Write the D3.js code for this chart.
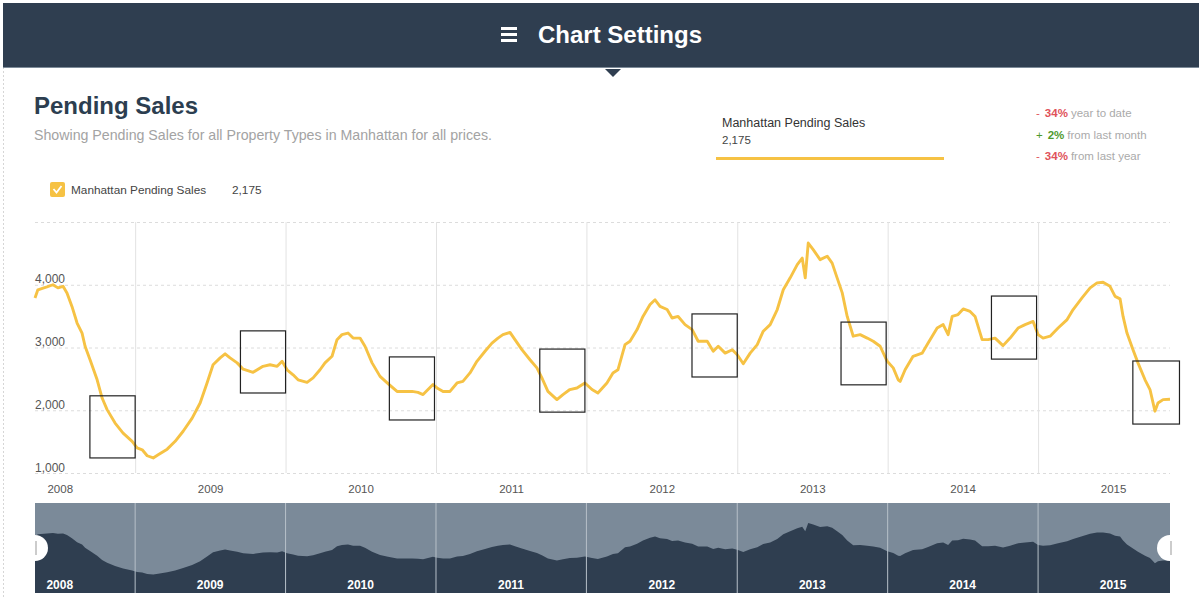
<!DOCTYPE html>
<html>
<head>
<meta charset="utf-8">
<style>
    body { margin: 0; background: #fff; }
    svg text { font-family: "Liberation Sans", Arial, sans-serif; }
</style>
</head>
<body>
<script src="https://d3js.org/d3.v7.min.js"></script>
<script type="text/javascript">
    // pending sales readings, time as decimal year
    var saleYears = [
        2008.336, 2008.355, 2008.415, 2008.455, 2008.488, 2008.522, 2008.548, 2008.581, 2008.615, 2008.648,
        2008.668, 2008.701, 2008.748, 2008.781, 2008.814, 2008.867, 2008.920, 2008.980, 2009.013, 2009.047,
        2009.080, 2009.120, 2009.153, 2009.213, 2009.266, 2009.319, 2009.379, 2009.432, 2009.478, 2009.518,
        2009.565, 2009.598, 2009.631, 2009.678, 2009.718, 2009.784, 2009.850, 2009.897, 2009.944, 2009.977,
        2010.010, 2010.050, 2010.083, 2010.143, 2010.183, 2010.229, 2010.262, 2010.309, 2010.342, 2010.375,
        2010.415, 2010.449, 2010.495, 2010.528, 2010.575, 2010.628, 2010.681, 2010.741, 2010.781, 2010.841,
        2010.880, 2010.914, 2010.947, 2010.980, 2011.007, 2011.047, 2011.093, 2011.140, 2011.179, 2011.226,
        2011.272, 2011.326, 2011.372, 2011.412, 2011.445, 2011.492, 2011.525, 2011.571, 2011.625, 2011.671,
        2011.704, 2011.744, 2011.804, 2011.844, 2011.890, 2011.937, 2011.990, 2012.037, 2012.076, 2012.136,
        2012.176, 2012.209, 2012.256, 2012.289, 2012.336, 2012.375, 2012.422, 2012.455, 2012.488, 2012.535,
        2012.568, 2012.608, 2012.654, 2012.701, 2012.741, 2012.801, 2012.841, 2012.874, 2012.920, 2012.967,
        2013.000, 2013.040, 2013.086, 2013.133, 2013.173, 2013.219, 2013.266, 2013.306, 2013.352, 2013.399,
        2013.432, 2013.452, 2013.472, 2013.505, 2013.551, 2013.598, 2013.631, 2013.664, 2013.698, 2013.731,
        2013.771, 2013.817, 2013.864, 2013.904, 2013.950, 2013.997, 2014.037, 2014.070, 2014.083, 2014.116,
        2014.169, 2014.229, 2014.269, 2014.329, 2014.369, 2014.402, 2014.429, 2014.468, 2014.502, 2014.548,
        2014.581, 2014.628, 2014.668, 2014.714, 2014.767, 2014.814, 2014.867, 2014.914, 2014.967, 2015.000,
        2015.033, 2015.080, 2015.133, 2015.193, 2015.233, 2015.292, 2015.346, 2015.392, 2015.432, 2015.478,
        2015.512, 2015.545, 2015.565, 2015.591, 2015.631, 2015.664, 2015.711, 2015.744, 2015.777, 2015.797,
        2015.831, 2015.877
    ];
    var saleValues = [
        3790, 3920, 3965, 4000, 3950, 3975, 3870, 3655, 3390, 3230,
        3020, 2805, 2485, 2195, 2010, 1795, 1635, 1505, 1400, 1370,
        1275, 1240, 1290, 1380, 1505, 1665, 1875, 2115, 2435, 2725,
        2835, 2900, 2835, 2755, 2655, 2605, 2700, 2725, 2700, 2780,
        2645, 2565, 2485, 2445, 2515, 2645, 2755, 2860, 3125, 3205,
        3230, 3150, 3150, 3020, 2755, 2540, 2425, 2300, 2300, 2300,
        2285, 2250, 2330, 2410, 2355, 2300, 2300, 2435, 2460, 2595,
        2780, 2940, 3070, 3150, 3205, 3240, 3125, 2965, 2805, 2675,
        2515, 2300, 2170, 2250, 2330, 2355, 2435, 2330, 2275, 2435,
        2595, 2645, 3045, 3100, 3285, 3495, 3685, 3760, 3655, 3605,
        3470, 3495, 3365, 3285, 3100, 3100, 2940, 3020, 2910, 2965,
        2885, 2740, 2910, 3045, 3260, 3365, 3605, 3920, 4110, 4320,
        4425, 4110, 4665, 4560, 4400, 4455, 4345, 4110, 3870, 3495,
        3180, 3205, 3150, 3100, 3020, 2780, 2675, 2485, 2460, 2645,
        2860, 2910, 3070, 3310, 3365, 3205, 3495, 3525, 3615, 3575,
        3495, 3125, 3125, 3150, 3030, 3150, 3310, 3365, 3415, 3205,
        3150, 3180, 3310, 3445, 3605, 3790, 3950, 4030, 4040, 3975,
        3815, 3775, 3495, 3230, 2965, 2755, 2485, 2330, 1985, 2115,
        2170, 2175
    ];

    var yTicks = [1000, 2000, 3000, 4000, 5000];
    var years = [2008, 2009, 2010, 2011, 2012, 2013, 2014, 2015];

    // the black highlight boxes drawn over the chart
    var boxStart = [2008.70, 2009.70, 2010.69, 2011.69, 2012.70, 2013.69, 2014.69, 2015.63];
    var boxEnd   = [2009.00, 2010.00, 2010.99, 2011.99, 2013.00, 2013.99, 2014.99, 2015.94];
    var boxHigh  = [2230, 3265, 2850, 2975, 3535, 3405, 3820, 2785];
    var boxLow   = [1240, 2275, 1845, 1970, 2530, 2405, 2815, 1780];

    var statSigns = ['-', '+', '-'];
    var statPct = ['34%', '2%', '34%'];
    var statText = ['year to date', 'from last month', 'from last year'];

    var seriesName = 'Manhattan Pending Sales';

    function toDate(t) {
        var yr = Math.floor(t);
        var a = new Date(yr, 0, 1), b = new Date(yr + 1, 0, 1);
        return new Date(+a + (t - yr) * (b - a));
    }

    var data = saleYears.map(function (t, i) { return { date: toDate(t), value: saleValues[i] }; });
    var lastValue = saleValues[saleValues.length - 1];
    var fmt = d3.format(',');

    var svgWidth = 1199, svgHeight = 597;
    var yellow = '#f6c244', navy = '#2f3e50';

    var svg = d3.select('body').append('svg')
        .attr('width', svgWidth).attr('height', svgHeight);

    // page edge
    svg.append('line').attr('x1', 3.5).attr('x2', 3.5).attr('y1', 67).attr('y2', svgHeight)
        .attr('stroke', '#d6d6d6').attr('stroke-dasharray', '2,2');

    // header bar
    svg.append('rect').attr('x', 3).attr('y', 3).attr('width', svgWidth - 3).attr('height', 64).attr('fill', navy);
    svg.append('line').attr('x1', 3).attr('x2', svgWidth).attr('y1', 67.5).attr('y2', 67.5).attr('stroke', '#7d8b99');
    svg.append('path').attr('d', 'M605,69 L621,69 L613,77 Z').attr('fill', navy);
    [27, 33, 39].forEach(function (yy) {
        svg.append('rect').attr('x', 501).attr('y', yy).attr('width', 16).attr('height', 3).attr('fill', '#fff');
    });
    svg.append('text').attr('x', 538).attr('y', 43).text('Chart Settings')
        .attr('fill', '#fff').attr('font-size', 24).attr('font-weight', 'bold');

    // title block
    svg.append('text').attr('x', 34).attr('y', 114).text('Pending Sales')
        .attr('fill', '#2c3e50').attr('font-size', 24).attr('font-weight', 'bold');
    svg.append('text').attr('x', 34).attr('y', 140)
        .text('Showing Pending Sales for all Property Types in Manhattan for all prices.')
        .attr('fill', '#a3a3a3').attr('font-size', 14.2);

    // legend
    svg.append('rect').attr('x', 50).attr('y', 182).attr('width', 15).attr('height', 15).attr('rx', 2).attr('fill', yellow);
    svg.append('path').attr('d', 'M53.5,189 L56.5,192.5 L61.5,186').attr('fill', 'none')
        .attr('stroke', '#fff').attr('stroke-width', 1.8);
    svg.append('text').attr('x', 71).attr('y', 194).text(seriesName).attr('fill', '#444').attr('font-size', 11.8);
    svg.append('text').attr('x', 232).attr('y', 194).text(fmt(lastValue)).attr('fill', '#444').attr('font-size', 11.8);

    // right summary
    svg.append('text').attr('x', 722).attr('y', 127).text(seriesName).attr('fill', '#333').attr('font-size', 12.5);
    svg.append('text').attr('x', 722).attr('y', 144).text(fmt(lastValue)).attr('fill', '#444').attr('font-size', 11.5);
    svg.append('line').attr('x1', 716).attr('x2', 944).attr('y1', 158.5).attr('y2', 158.5)
        .attr('stroke', yellow).attr('stroke-width', 3);

    statSigns.forEach(function (s, i) {
        var col = s === '+' ? '#4f9a2e' : '#e0525a';
        var t = svg.append('text').attr('x', 1036).attr('y', 117 + i * 21.5).attr('font-size', 11.5);
        t.append('tspan').text(s).attr('fill', col);
        t.append('tspan').attr('dx', 5).text(statPct[i]).attr('fill', col).attr('font-weight', 'bold');
        t.append('tspan').attr('dx', 3).text(statText[i]).attr('fill', '#aaa');
    });

    // main chart
    var x = d3.scaleTime().domain([toDate(2008.336), toDate(2015.877)]).range([35, 1170]);
    var y = d3.scaleLinear().domain([1000, 5000]).range([473, 222]);

    var yAxis = d3.axisRight(y).tickValues(yTicks).tickSize(1135)
        .tickFormat(function (d) { return d === 5000 ? '' : fmt(d); });
    var gy = svg.append('g').attr('transform', 'translate(35,0)').call(yAxis);
    gy.select('.domain').remove();
    gy.selectAll('line').attr('stroke', '#dcdcdc').attr('stroke-dasharray', '3,3');
    gy.selectAll('text').attr('x', 0).attr('dy', -2).attr('text-anchor', 'start')
        .attr('fill', '#555').attr('font-size', 12);

    var yearStarts = years.slice(1).map(function (yr) { return new Date(yr, 0, 1); });
    var gv = svg.append('g').attr('transform', 'translate(0,473)')
        .call(d3.axisBottom(x).tickValues(yearStarts).tickSize(-(473 - 222)).tickFormat(''));
    gv.select('.domain').remove();
    gv.selectAll('line').attr('stroke', '#e2e2e2');

    var midYears = years.map(function (yr) { return new Date(yr, 6, 2); });
    var gx = svg.append('g').attr('transform', 'translate(0,480)')
        .call(d3.axisBottom(x).tickValues(midYears).tickSize(0).tickFormat(d3.timeFormat('%Y')));
    gx.select('.domain').remove();
    gx.selectAll('text').attr('y', 13).attr('dy', 0).attr('fill', '#555').attr('font-size', 11.5);

    var line = d3.line().x(function (d) { return x(d.date); }).y(function (d) { return y(d.value); });
    svg.append('path').datum(data).attr('d', line).attr('fill', 'none')
        .attr('stroke', yellow).attr('stroke-width', 2.9).attr('stroke-linejoin', 'round');

    // highlight boxes
    svg.selectAll('rect.box').data(boxStart).enter().append('rect').attr('class', 'box')
        .attr('x', function (d) { return x(toDate(d)); })
        .attr('y', function (d, i) { return y(boxHigh[i]); })
        .attr('width', function (d, i) { return x(toDate(boxEnd[i])) - x(toDate(d)); })
        .attr('height', function (d, i) { return y(boxLow[i]) - y(boxHigh[i]); })
        .attr('fill', 'none').attr('stroke', '#222').attr('stroke-width', 1.2);

    // overview / brush strip
    var yb = d3.scaleLinear().domain([0, 6000]).range([593, 503]);
    svg.append('rect').attr('x', 35).attr('y', 503).attr('width', 1135).attr('height', 90).attr('fill', '#7b8a99');
    var area = d3.area().x(function (d) { return x(d.date); }).y0(593).y1(function (d) { return yb(d.value); });
    svg.append('path').datum(data).attr('d', area).attr('fill', navy);

    svg.selectAll('line.sep').data(yearStarts).enter().append('line').attr('class', 'sep')
        .attr('x1', function (d) { return x(d); }).attr('x2', function (d) { return x(d); })
        .attr('y1', 503).attr('y2', 593).attr('stroke', '#b7c0c9').attr('stroke-width', 1);
    svg.selectAll('text.brushyear').data(midYears).enter().append('text').attr('class', 'brushyear')
        .attr('x', function (d) { return x(d); }).attr('y', 589).attr('text-anchor', 'middle')
        .text(d3.timeFormat('%Y')).attr('fill', '#fff').attr('font-size', 12).attr('font-weight', 'bold');

    [35, 1170].forEach(function (hx) {
        svg.append('circle').attr('cx', hx).attr('cy', 548).attr('r', 13).attr('fill', '#fff');
        svg.append('line').attr('x1', hx + 1).attr('x2', hx + 1).attr('y1', 541).attr('y2', 555)
            .attr('stroke', '#bbb').attr('stroke-width', 1.5);
    });
</script>
</body>
</html>
